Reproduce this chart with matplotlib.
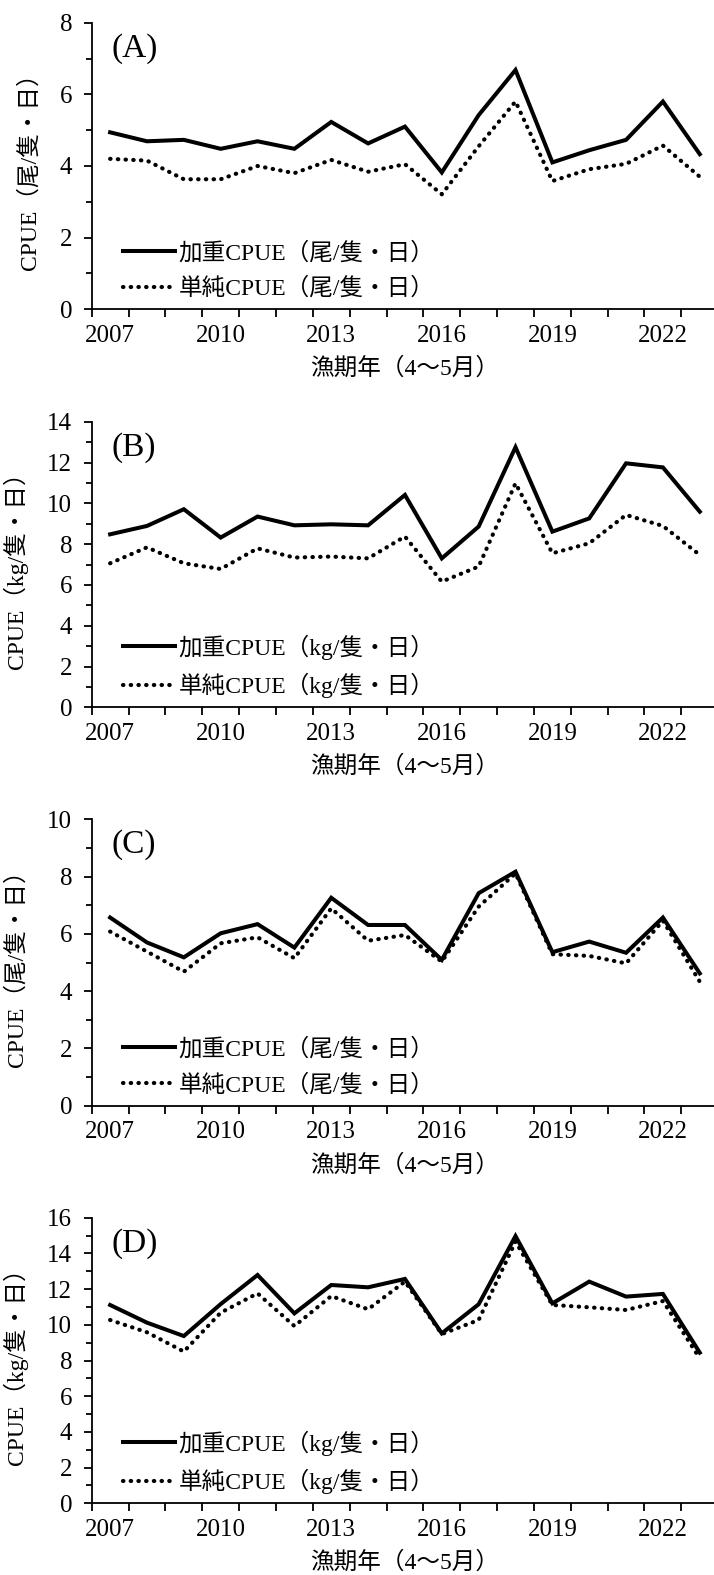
import matplotlib
matplotlib.use("Agg")
import matplotlib.pyplot as plt
from matplotlib.ticker import MultipleLocator, FixedLocator, FixedFormatter
import numpy as np

plt.rcParams['font.family'] = ['Liberation Serif', 'Noto Sans CJK JP', 'DejaVu Sans']

years = list(range(2007, 2024))
year_labels = ['2007', '2010', '2013', '2016', '2019', '2022']

a_weighted = [4.94, 4.69, 4.73, 4.48, 4.69, 4.48, 5.23, 4.63, 5.10, 3.82, 5.42, 6.68, 4.10, 4.44, 4.73, 5.80, 4.33]
a_simple = [4.20, 4.15, 3.63, 3.63, 4.00, 3.80, 4.17, 3.84, 4.05, 3.21, 4.55, 5.80, 3.58, 3.91, 4.06, 4.57, 3.70]

b_weighted = [8.48, 8.89, 9.71, 8.32, 9.35, 8.92, 8.97, 8.92, 10.41, 7.30, 8.86, 12.75, 8.61, 9.26, 11.96, 11.76, 9.59]
b_simple = [7.06, 7.84, 7.06, 6.78, 7.79, 7.34, 7.39, 7.30, 8.37, 6.16, 6.90, 10.98, 7.55, 8.04, 9.43, 8.89, 7.47]

c_weighted = [6.57, 5.70, 5.18, 6.02, 6.34, 5.52, 7.26, 6.31, 6.31, 5.09, 7.42, 8.17, 5.36, 5.73, 5.34, 6.57, 4.62]
c_simple = [6.08, 5.38, 4.68, 5.67, 5.88, 5.15, 6.89, 5.76, 5.96, 5.03, 6.95, 8.11, 5.29, 5.23, 4.97, 6.46, 4.33]

d_weighted = [11.11, 10.12, 9.37, 11.16, 12.79, 10.64, 12.23, 12.10, 12.57, 9.52, 11.15, 14.97, 11.20, 12.42, 11.58, 11.73, 8.44]
d_simple = [10.27, 9.58, 8.50, 10.68, 11.76, 9.93, 11.61, 10.87, 12.42, 9.48, 10.27, 14.66, 11.11, 10.98, 10.83, 11.33, 8.12]

panels = [
    ('(A)', a_weighted, a_simple, 8, 'CPUE（尾/隻・日）', '加重CPUE（尾/隻・日）', '単純CPUE（尾/隻・日）'),
    ('(B)', b_weighted, b_simple, 14, 'CPUE（kg/隻・日）', '加重CPUE（kg/隻・日）', '単純CPUE（kg/隻・日）'),
    ('(C)', c_weighted, c_simple, 10, 'CPUE（尾/隻・日）', '加重CPUE（尾/隻・日）', '単純CPUE（尾/隻・日）'),
    ('(D)', d_weighted, d_simple, 16, 'CPUE（kg/隻・日）', '加重CPUE（kg/隻・日）', '単純CPUE（kg/隻・日）'),
]

xlabel = '漁期年（4～5月）'

fig = plt.figure(figsize=(7.14, 15.75), dpi=100)
W, H = 714.0, 1575.0
left = 91.7 / W
width = 626.5 / W
tops = [22.7, 421.7, 819.3, 1217.7]
bottoms = [309.3, 707.3, 1105.7, 1503.3]

fs_tick = 18
fs = 17
x = np.arange(len(years))

for i, (tag, wv, sv, ymax, ylab, lab1, lab2) in enumerate(panels):
    ax = fig.add_axes([left, 1 - bottoms[i] / H, width, (bottoms[i] - tops[i]) / H])
    ax.plot(x, wv, color='black', lw=2.9, solid_joinstyle='miter', label=lab1)
    ax.plot(x, sv, color='black', lw=3.0, linestyle=(0, (0.1, 1.75)),
            dash_capstyle='round', label=lab2)
    ax.set_xlim(-0.5, len(years) - 0.5)
    ax.set_ylim(0, ymax)
    for s in ['top', 'right']:
        ax.spines[s].set_visible(False)
    for s in ['left', 'bottom']:
        ax.spines[s].set_linewidth(1.3)
    # x: boundary ticks (major, unlabeled) and labels at category centres (minor)
    ax.xaxis.set_major_locator(FixedLocator(np.arange(-0.5, len(years), 1.0)))
    ax.xaxis.set_major_formatter(FixedFormatter([''] * (len(years) + 1)))
    label_pos = [years.index(int(y)) for y in year_labels]
    ax.xaxis.set_minor_locator(FixedLocator(label_pos))
    ax.xaxis.set_minor_formatter(FixedFormatter(year_labels))
    ax.tick_params(axis='x', which='major', direction='out', length=6, width=1.3)
    ax.tick_params(axis='x', which='minor', length=0, pad=11, labelsize=fs_tick)
    ax.yaxis.set_major_locator(MultipleLocator(2))
    ax.yaxis.set_minor_locator(MultipleLocator(1))
    ax.tick_params(axis='y', which='major', direction='out', length=6, width=1.3,
                   pad=8, labelsize=fs_tick)
    ax.tick_params(axis='y', which='minor', direction='out', length=4, width=1.3)
    ax.set_ylabel(ylab, fontsize=fs, labelpad=14)
    ax.set_xlabel(xlabel, fontsize=fs, labelpad=8)
    ax.text(0.032, 0.91, tag, transform=ax.transAxes, fontsize=24,
            ha='left', va='center')
    ax.legend(loc='lower left', bbox_to_anchor=(0.035, 0.0), frameon=False,
              fontsize=fs, handlelength=2.2, handletextpad=0.15,
              labelspacing=0.55, borderaxespad=0)

fig.savefig('out.png', dpi=100)
